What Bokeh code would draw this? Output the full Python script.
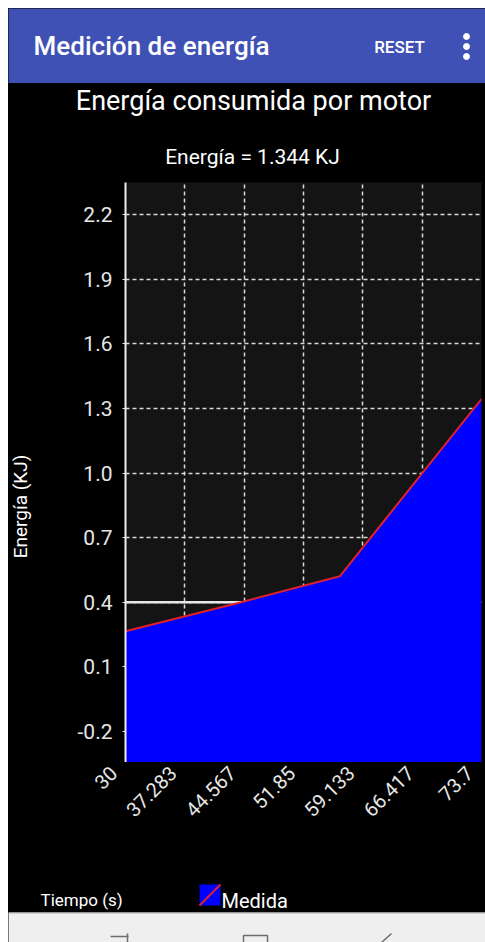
import math
from bokeh.plotting import figure
from bokeh.models import Label, Range1d, FixedTicker, CustomJSTickFormatter, Span
from bokeh.layouts import column, row
from bokeh.embed import file_html
from bokeh.resources import INLINE

# ---------------- data ----------------
tiempo = [30.0, 44.2, 56.3, 73.7]
energia = [0.265, 0.40, 0.52, 1.344]
x_ticks = [30, 37.283, 44.567, 51.85, 59.133, 66.417, 73.7]
y_ticks = [-0.2, 0.1, 0.4, 0.7, 1.0, 1.3, 1.6, 1.9, 2.2]
linea_ref = 0.4
app_titulo = "Medición de energía"
boton = "RESET"
titulo = "Energía consumida por motor"
subtitulo = "Energía = 1.344 KJ"
y_label = "Energía (KJ)"
x_label = "Tiempo (s)"
serie = "Medida"

FONT = "Roboto"
FONT_MED = "'Roboto Medium', Roboto"
W = 477
X0, X1 = 30, 73.7
Y_MIN, Y_MAX = -0.345, 2.35


def no_align(f):
    try:
        f.frame_align = False
    except Exception:
        pass


def strip(w, h, bg):
    """Figure whose frame fills the whole canvas; coordinates are pixels,
    x from the left and y from the top."""
    f = figure(width=w, height=h, x_range=Range1d(0, w), y_range=Range1d(h, 0),
               x_axis_type=None, y_axis_type=None,
               output_backend="svg", toolbar_location=None,
               min_border=0, min_border_left=0, min_border_right=0,
               min_border_top=0, min_border_bottom=0)
    no_align(f)
    f.grid.visible = False
    f.outline_line_color = None
    f.background_fill_color = bg
    f.border_fill_color = bg
    return f


def txt(f, x, y, t, size, align="left", color="white", font=FONT, style="normal", angle=0.0):
    f.add_layout(Label(x=x, y=y, text=t, text_font=font, text_font_size=size,
                       text_font_style=style, text_color=color, text_align=align,
                       text_baseline="middle", angle=angle))


# ---------------- app bar ----------------
hdr = strip(W, 75, "#3f51b5")
txt(hdr, 25, 37, app_titulo, "26px", font=FONT_MED)
txt(hdr, 391, 38, boton, "17px", align="center", font=FONT_MED, style="bold")
hdr.scatter(x=[458, 458, 458], y=[28, 38, 48], size=6, color="white")

# ---------------- titles ----------------
tit = strip(W, 99, "black")
txt(tit, 245, 17, titulo, "27px", align="center")
txt(tit, 244, 73, subtitulo, "21px", align="center")

# ---------------- y label strip ----------------
ylab = strip(28, 690, "black")
txt(ylab, 12, 324, y_label, "19px", align="center", angle=math.pi / 2)

# ---------------- main chart ----------------
p = figure(width=449, height=580, x_range=Range1d(X0, X1), y_range=Range1d(Y_MIN, Y_MAX),
           output_backend="svg", toolbar_location=None,
           min_border_left=89, min_border_right=4, min_border_top=0,
           min_border_bottom=0)
no_align(p)
p.background_fill_color = "#141414"
p.border_fill_color = "black"
p.outline_line_color = None

p.xaxis.visible = False
p.xgrid.ticker = FixedTicker(ticks=x_ticks)
p.yaxis.ticker = FixedTicker(ticks=y_ticks)
p.yaxis.formatter = CustomJSTickFormatter(code="return tick.toFixed(1);")

p.yaxis.axis_line_color = "#eeeeee"
p.yaxis.axis_line_width = 2
p.yaxis.major_tick_line_color = "#e6e6e6"
p.yaxis.major_tick_out = 3
p.yaxis.major_tick_in = 0
p.yaxis.minor_tick_line_color = None
p.yaxis.major_label_standoff = 10
p.yaxis.major_label_text_font = FONT
p.yaxis.major_label_text_font_size = "21px"
p.yaxis.major_label_text_color = "#e6e6e6"

p.grid.grid_line_color = "#d8d8d8"
p.grid.grid_line_dash = "4 3"
p.grid.grid_line_width = 1.5

p.add_layout(Span(location=linea_ref, dimension="width", line_color="#e6e6e6",
                  line_width=2.5, level="underlay"))

p.varea(x=tiempo, y1=[Y_MIN] * len(tiempo), y2=energia, fill_color="#0000ff")
p.line(tiempo, energia, line_color="#e0202a", line_width=2)

# ---------------- time axis (shares the x range, labels end at each tick) ----------------
ax = figure(width=449, height=110, x_range=p.x_range, y_range=Range1d(0, 1),
            y_axis_type=None, output_backend="svg", toolbar_location=None,
            min_border_left=77, min_border_right=16, min_border_top=0,
            min_border_bottom=109)
no_align(ax)
ax.grid.visible = False
ax.outline_line_color = None
ax.background_fill_color = "black"
ax.border_fill_color = "black"
ax.xaxis.ticker = FixedTicker(ticks=x_ticks)
ax.xaxis.formatter = CustomJSTickFormatter(code="return tick.toString();")
ax.xaxis.axis_line_color = None
ax.xaxis.major_tick_line_color = None
ax.xaxis.minor_tick_line_color = None
ax.xaxis.major_label_orientation = math.pi / 4
ax.xaxis.major_label_standoff = 0
ax.xaxis.major_label_text_font = FONT
ax.xaxis.major_label_text_font_size = "20px"
ax.xaxis.major_label_text_color = "#e6e6e6"

# ---------------- legend strip ----------------
leg = strip(W, 40, "black")
txt(leg, 32, 27, x_label, "17px")
leg.quad(left=[191], right=[212], top=[12], bottom=[33], fill_color="#0000ff",
         line_color=None)
leg.segment(x0=[191], y0=[33], x1=[212], y1=[12], line_color="#e0202a", line_width=2)
txt(leg, 213, 28, serie, "20px")

# ---------------- navigation bar ----------------
nav = strip(W, 30, "#efefef")
nav.segment(x0=[0], y0=[0.5], x1=[W], y1=[0.5], line_color="#c4c4c4", line_width=1.5)
nav.multi_line(xs=[[102, 120], [119, 119], [235, 235, 259, 259], [373, 383]],
               ys=[[24, 24], [21, 30], [30, 23, 23, 30], [30, 21]],
               line_color="#6e6e6e", line_width=1.5)

black = {"background-color": "black"}
chart = column(p, ax, spacing=0, styles=black)
mid = row(ylab, chart, spacing=0, styles=black)
layout = column(hdr, tit, mid, leg, nav, spacing=0, styles=black)
layout.margin = (8, 0, 0, 8)
open("out.html", "w").write(file_html(layout, INLINE))
